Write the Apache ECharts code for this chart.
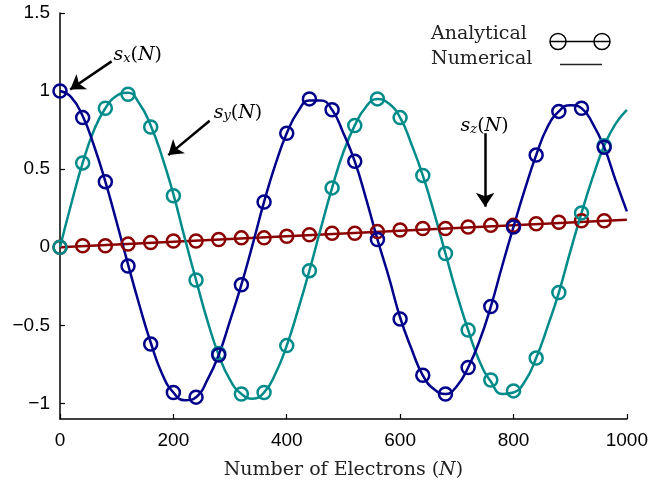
<!DOCTYPE html>
<html>
<head>
<meta charset="utf-8">
<script src="https://cdn.jsdelivr.net/npm/echarts@6/dist/echarts.min.js"></script>
<style>html,body{margin:0;padding:0;background:#fff;}#c{width:651px;height:485px;}</style>
</head>
<body>
<div id="c"></div>
<script>
// Marker (analytical) sample points
const nMarks = [0,40,80,120,160,200,240,280,320,360,400,440,480,520,560,600,640,680,720,760,800,840,880,920,960];
const sxAnalytical = [1.00,0.83,0.42,-0.12,-0.62,-0.93,-0.96,-0.69,-0.24,0.29,0.73,0.95,0.88,0.55,0.05,-0.46,-0.82,-0.94,-0.77,-0.38,0.13,0.59,0.87,0.89,0.64];
const syAnalytical = [0.00,0.54,0.89,0.98,0.77,0.33,-0.21,-0.68,-0.94,-0.93,-0.63,-0.15,0.38,0.78,0.95,0.83,0.46,-0.04,-0.53,-0.85,-0.92,-0.71,-0.29,0.22,0.65];
const szAnalytical = [0.00,0.01,0.01,0.02,0.03,0.04,0.04,0.05,0.06,0.06,0.07,0.08,0.09,0.09,0.10,0.11,0.12,0.12,0.13,0.14,0.14,0.15,0.16,0.17,0.17];

// Numerical (line) sample points
const nLine = [0,20,40,60,80,100,120,140,160,180,200,220,240,260,280,300,320,340,360,380,400,420,440,460,480,500,520,540,560,580,600,620,640,660,680,700,720,740,760,780,800,820,840,860,880,900,920,940,960,980,1000];
const sxNumerical = [1.00,0.96,0.84,0.65,0.42,0.16,-0.11,-0.37,-0.61,-0.81,-0.93,-0.98,-0.96,-0.85,-0.69,-0.47,-0.24,0.02,0.29,0.53,0.73,0.87,0.94,0.94,0.88,0.73,0.55,0.31,0.05,-0.19,-0.45,-0.65,-0.82,-0.91,-0.94,-0.89,-0.77,-0.60,-0.38,-0.12,0.13,0.37,0.59,0.77,0.87,0.91,0.89,0.79,0.64,0.43,0.23];
const syNumerical = [0.00,0.28,0.54,0.75,0.89,0.97,0.99,0.92,0.78,0.58,0.34,0.06,-0.21,-0.47,-0.69,-0.85,-0.94,-0.97,-0.93,-0.81,-0.63,-0.40,-0.15,0.12,0.38,0.61,0.78,0.90,0.95,0.92,0.83,0.66,0.46,0.22,-0.04,-0.30,-0.53,-0.73,-0.86,-0.94,-0.93,-0.86,-0.71,-0.51,-0.29,-0.03,0.22,0.45,0.65,0.79,0.88];
const nLineZ = [0,1000];
const szNumerical = [0.00,0.176];

const cX = '#00008b', cY = '#008b8b', cZ = '#8b0000';
const serif = 'DejaVu Serif';
const sans = 'Liberation Sans';

const pairs = (xs, ys) => xs.map((x,i)=>[x, ys[i]]);

const richS = {
  s:{fontFamily:serif,fontStyle:'italic',fontSize:19,lineHeight:24,color:'#000',verticalAlign:'bottom'},
  r:{fontFamily:serif,fontSize:19,lineHeight:24,color:'#000',verticalAlign:'bottom'},
  sub:{fontFamily:serif,fontStyle:'italic',fontSize:13,lineHeight:13,color:'#000',verticalAlign:'bottom'}
};

function lineSeries(data, color){
  return {type:'line', data, smooth:true, showSymbol:false, symbol:'none',
    lineStyle:{color, width:2.5}, itemStyle:{color}, silent:true, z:2};
}
function markSeries(data, color){
  return {type:'line', data, lineStyle:{width:0,opacity:0}, symbol:'circle', symbolSize:13, showSymbol:true,
    itemStyle:{color:'rgba(0,0,0,0)', borderColor:color, borderWidth:2.5}, silent:true, z:3};
}

const chart = echarts.init(document.getElementById('c'), null, {renderer:'canvas'});
const opt = {
  animation:false,
  backgroundColor:'#fff',
  grid:{left:60, right:20, top:13, bottom:66, containLabel:false},
  xAxis:{type:'value', min:0, max:1000, interval:200,
    axisLine:{show:true, onZero:false, lineStyle:{color:'#000', width:1.5}},
    axisTick:{show:true, inside:true, length:5, lineStyle:{color:'#000', width:1.2}},
    axisLabel:{fontFamily:sans, fontSize:19, color:'#000', margin:12, showMaxLabel:true,
      formatter:v=>String(v)},
    splitLine:{show:false},
    name:'{r|Number of Electrons (}{i|N}{r|)}', nameLocation:'middle', nameGap:42,
    nameTextStyle:{rich:{
      r:{fontFamily:serif, fontSize:19, color:'#222'},
      i:{fontFamily:serif, fontStyle:'italic', fontSize:19, color:'#222'}
    }}
  },
  yAxis:{type:'value', min:-1.1, max:1.5, splitNumber:5,
    axisLine:{show:true, onZero:false, lineStyle:{color:'#000', width:1.5}},
    axisTick:{show:true, inside:true, length:5, lineStyle:{color:'#000', width:1.2}},
    axisLabel:{fontFamily:sans, fontSize:19, color:'#000', margin:10, showMinLabel:false,
      formatter:v=>String(v).replace('-', '\u2212')},
    splitLine:{show:false}
  },
  series:[
    Object.assign(lineSeries(pairs(nLineZ, szNumerical), cZ), {
      markLine:{silent:true, symbol:['none','arrow'], symbolSize:14, label:{show:false},
        lineStyle:{color:'#000', width:2.5, type:'solid'},
        emphasis:{disabled:true},
        data:[
          [{coord:[91,1.19]},{coord:[18,1.01]}],
          [{coord:[264,0.81]},{coord:[191,0.59]}],
          [{coord:[750,0.73]},{coord:[750,0.26]}]
        ]},
      markPoint:{silent:true, symbol:'circle', symbolSize:0,
        label:{show:true, position:'inside', rich:richS, color:'#000'},
        data:[
          {coord:[137,1.245], label:{formatter:'{s|s}{sub|x}{r|(}{s|N}{r|)}'}},
          {coord:[314,0.875], label:{formatter:'{s|s}{sub|y}{r|(}{s|N}{r|)}'}},
          {coord:[749,0.79], label:{formatter:'{s|s}{sub|z}{r|(}{s|N}{r|)}'}}
        ]}
    }),
    lineSeries(pairs(nLine, syNumerical), cY),
    lineSeries(pairs(nLine, sxNumerical), cX),
    markSeries(pairs(nMarks, szAnalytical), cZ),
    markSeries(pairs(nMarks, syAnalytical), cY),
    markSeries(pairs(nMarks, sxAnalytical), cX)
  ],
  graphic:[
    {type:'text', left:431, top:25, style:{text:'Analytical', font:'19px "DejaVu Serif"', fill:'#222'}},
    {type:'text', left:431, top:50, style:{text:'Numerical', font:'19px "DejaVu Serif"', fill:'#222'}},
    {type:'line', shape:{x1:550, y1:41.5, x2:610, y2:41.5}, style:{stroke:'#000', lineWidth:1.5}},
    {type:'circle', shape:{cx:558, cy:41.5, r:8}, style:{stroke:'#000', fill:'none', lineWidth:1.5}},
    {type:'circle', shape:{cx:602, cy:41.5, r:8}, style:{stroke:'#000', fill:'none', lineWidth:1.5}},
    {type:'line', shape:{x1:560, y1:64.5, x2:602, y2:64.5}, style:{stroke:'#222', lineWidth:1.5}}
  ]
};
chart.setOption(opt);
</script>
</body>
</html>
